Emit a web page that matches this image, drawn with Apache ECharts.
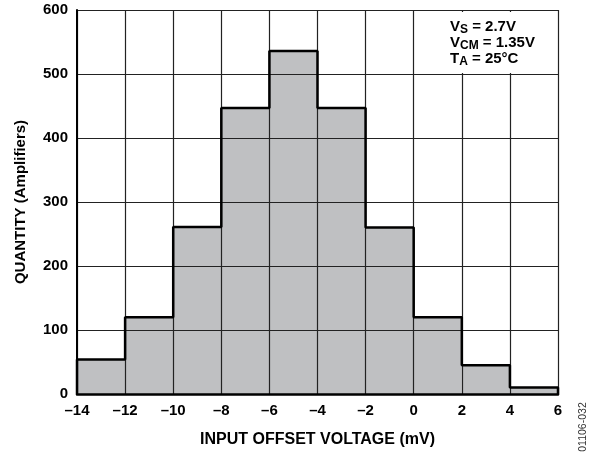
<!DOCTYPE html>
<html>
<head>
<meta charset="utf-8">
<script src="https://cdn.jsdelivr.net/npm/echarts@6/dist/echarts.min.js"></script>
<style>html,body{margin:0;padding:0;background:#fff}#c{width:597px;height:456px}</style>
</head>
<body>
<div id="c"></div>
<script>
// Bin edges (mV) and counts
var binStarts = [-14, -12, -10, -8, -6, -4, -2, 0, 2, 4];
var binWidth = 2;
var counts = [54, 120, 261, 447, 536, 447, 260, 120, 45, 10];
var xTicks = [-14, -12, -10, -8, -6, -4, -2, 0, 2, 4, 6];
var yTicks = [0, 100, 200, 300, 400, 500, 600];

var FONT = '"Liberation Sans", Arial, sans-serif';

var rectData = binStarts.map(function (s, i) { return [s, s + binWidth, counts[i]]; });
var outline = [[binStarts[0], 0]];
binStarts.forEach(function (s, i) {
  outline.push([s, counts[i]]);
  outline.push([s + binWidth, counts[i]]);
});
outline.push([binStarts[binStarts.length - 1] + binWidth, 0]);

var chart = echarts.init(document.getElementById('c'), null, { renderer: 'canvas' });
chart.setOption({
  animation: false,
  grid: { left: 77, right: 39, top: 10, bottom: 62, containLabel: false },
  xAxis: {
    type: 'value', min: xTicks[0], max: xTicks[xTicks.length - 1], interval: 2, z: 3,
    name: 'INPUT OFFSET VOLTAGE (mV)', nameLocation: 'middle', nameGap: 38,
    nameTextStyle: { fontFamily: FONT, fontWeight: 'bold', fontSize: 16, color: '#000' },
    axisLine: { show: true, onZero: false, lineStyle: { color: '#000', width: 2.5 } },
    axisTick: { show: false },
    axisLabel: { fontFamily: FONT, fontWeight: 'bold', fontSize: 15, color: '#000', margin: 9,
      formatter: function (v) { return String(v).replace('-', '\u2013'); } },
    splitLine: { show: true, lineStyle: { color: '#222', width: 1.2 } }
  },
  yAxis: {
    type: 'value', min: yTicks[0], max: yTicks[yTicks.length - 1], interval: 100, z: 3,
    name: 'QUANTITY (Amplifiers)', nameLocation: 'middle', nameGap: 49,
    nameTextStyle: { fontFamily: FONT, fontWeight: 'bold', fontSize: 15, color: '#000' },
    axisLine: { show: true, onZero: false, lineStyle: { color: '#000', width: 2 } },
    axisTick: { show: false },
    axisLabel: { fontFamily: FONT, fontWeight: 'bold', fontSize: 15, color: '#000', margin: 9 },
    splitLine: { show: true, lineStyle: { color: '#222', width: 1.2 } }
  },
  series: [
    {
      type: 'custom', z: 1,
      data: rectData,
      encode: { x: [0, 1], y: 2 },
      renderItem: function (params, api) {
        var p0 = api.coord([api.value(0), api.value(2)]);
        var p1 = api.coord([api.value(1), 0]);
        return { type: 'rect', shape: { x: p0[0], y: p0[1], width: p1[0] - p0[0], height: p1[1] - p0[1] },
          style: { fill: '#bfc0c2', stroke: null } };
      }
    },
    {
      type: 'line', z: 5, data: outline, symbol: 'none', silent: true,
      lineStyle: { color: '#000', width: 2.5 }
    }
  ],
  graphic: [
    {
      type: 'rect', z: 8, shape: { x: 415, y: 12, width: 142, height: 61 },
      style: { fill: '#fff' }
    },
    {
      type: 'text', left: 450, top: 17, z: 10,
      style: {
        text: '{m|V}{s|S}{m| = 2.7V}\n{m|V}{s|CM}{m| = 1.35V}\n{m|T}{s|A}{m| = 25°C}',
        rich: {
          m: { fontFamily: FONT, fontWeight: 'bold', fontSize: 15, fill: '#000', lineHeight: 16 },
          s: { fontFamily: FONT, fontWeight: 'bold', fontSize: 12, fill: '#000', lineHeight: 16, padding: [7, 0, 0, 0] }
        }
      }
    },
    {
      type: 'text', x: 583, y: 427, rotation: Math.PI / 2, z: 10,
      style: { text: '01106-032', fontFamily: FONT, fontSize: 10.5, fill: '#333', align: 'center', verticalAlign: 'middle' }
    }
  ]
});
</script>
</body>
</html>
